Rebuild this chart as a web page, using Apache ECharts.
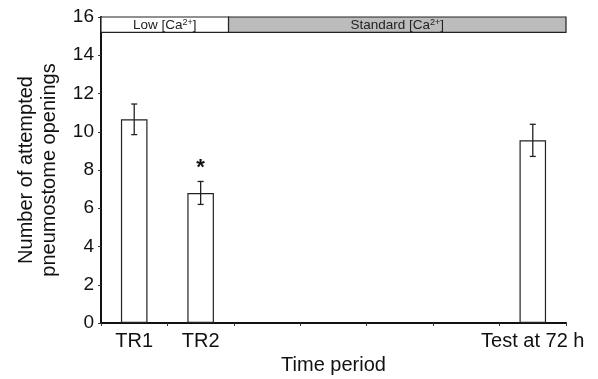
<!DOCTYPE html>
<html>
<head>
<meta charset="utf-8">
<script src="https://cdn.jsdelivr.net/npm/echarts@6/dist/echarts.min.js"></script>
<style>
  html, body { margin: 0; padding: 0; background: #fff; }
  #chart { width: 598px; height: 379px; }
</style>
</head>
<body>
<div id="chart"></div>
<script>
// categories: 7 slots, only three carry bars
const periods = ['TR1', 'TR2', '', '', '', '', 'Test at 72 h'];
const means = [10.65, 6.8, null, null, null, null, 9.55];
const errs = [0.8, 0.6, null, null, null, null, 0.84];
const sig = ['', '*', '', '', '', '', ''];
// condition bands along the top, on a 0..7 slot scale
const bands = [
  { from: 0, to: 1.92, name: 'Low', fill: '#ffffff' },
  { from: 1.92, to: 7, name: 'Standard', fill: '#bcbcbc' }
];
const bandLow = 15.2, bandHigh = 16;

const FONT = 'Liberation Sans, Arial, sans-serif';
const chart = echarts.init(document.getElementById('chart'), null, { renderer: 'canvas' });

const errData = means.map((m, i) => m == null ? null : [i, m - errs[i], m + errs[i], sig[i]]).filter(Boolean);

chart.setOption({
  animation: false,
  grid: { left: 101, right: 32, top: 17, bottom: 56, containLabel: false, outerBoundsMode: 'none' },
  xAxis: [
    {
      type: 'category',
      data: periods,
      boundaryGap: true,
      name: 'Time period',
      nameLocation: 'middle',
      nameGap: 29,
      nameTextStyle: { color: '#111', fontSize: 20, fontFamily: FONT },
      axisLine: { lineStyle: { color: '#111', width: 2 } },
      axisTick: { show: true, alignWithLabel: false, length: 3, lineStyle: { color: '#333', width: 1 } },
      axisLabel: { color: '#111', fontSize: 20, fontFamily: FONT, interval: 0, margin: 8 },
      splitLine: { show: false }
    },
    { type: 'value', min: 0, max: 7, show: false }
  ],
  yAxis: {
    type: 'value',
    min: 0, max: 16, interval: 2,
    name: 'Number of attempted\npneumostome openings',
    nameLocation: 'middle',
    nameGap: 40,
    nameTextStyle: { color: '#111', fontSize: 20, fontFamily: FONT, lineHeight: 23 },
    axisLine: { show: true, lineStyle: { color: '#111', width: 2 } },
    axisTick: { show: true, length: 3, lineStyle: { color: '#333', width: 1 } },
    axisLabel: { color: '#111', fontSize: 19, fontFamily: FONT, margin: 7 },
    splitLine: { show: false }
  },
  series: [
    {
      type: 'bar',
      data: means,
      barWidth: '40%',
      itemStyle: { color: '#fff', borderColor: '#222', borderWidth: 1.2 },
      z: 2
    },
    {
      type: 'custom',
      data: errData,
      z: 3,
      renderItem: (params, api) => {
        const lo = api.coord([api.value(0), api.value(1)]);
        const hi = api.coord([api.value(0), api.value(2)]);
        const x = lo[0], cap = 3;
        const style = { stroke: '#222', lineWidth: 1.3 };
        const kids = [
          { type: 'line', shape: { x1: x, y1: lo[1], x2: x, y2: hi[1] }, style },
          { type: 'line', shape: { x1: x - cap, y1: lo[1], x2: x + cap, y2: lo[1] }, style },
          { type: 'line', shape: { x1: x - cap, y1: hi[1], x2: x + cap, y2: hi[1] }, style }
        ];
        const s = errData[params.dataIndex][3];
        if (s) kids.push({ type: 'text', style: { text: s, x: x, y: hi[1] - 14, align: 'center', verticalAlign: 'middle', font: 'bold 22px ' + FONT, fill: '#111' } });
        return { type: 'group', children: kids };
      }
    },
    {
      type: 'custom',
      xAxisIndex: 1,
      data: bands.map(b => [b.from, b.to, b.name]),
      z: 4,
      renderItem: (params, api) => {
        const b = bands[params.dataIndex];
        const p0 = api.coord([b.from, bandHigh]);
        const p1 = api.coord([b.to, bandLow]);
        return {
          type: 'group',
          children: [
            { type: 'rect', shape: { x: p0[0], y: p0[1], width: p1[0] - p0[0], height: p1[1] - p0[1] },
              style: { fill: b.fill, stroke: '#222', lineWidth: 1.2 } },
            { type: 'text', style: {
                text: b.name + ' [Ca{sup|2+}]',
                x: (p0[0] + p1[0]) / 2, y: (p0[1] + p1[1]) / 2 + 1,
                align: 'center', verticalAlign: 'middle',
                font: '13.5px ' + FONT, fill: '#222',
                rich: { sup: { fontSize: 9, fontFamily: FONT, verticalAlign: 'top', padding: [0, 0, 6, 0] } }
              } }
          ]
        };
      }
    }
  ]
});
</script>
</body>
</html>
